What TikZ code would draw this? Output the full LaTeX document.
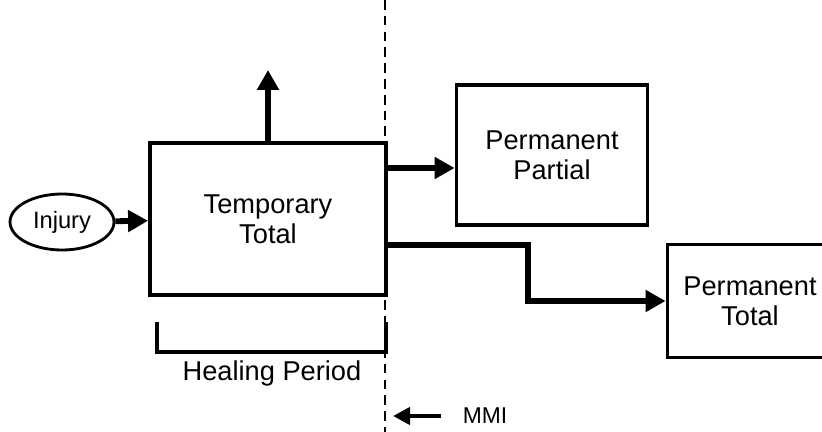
\documentclass[tikz,border=0pt]{standalone}
\usepackage{fontspec}
\setmainfont{Liberation Sans}
\usepackage{tikz}
\usetikzlibrary{arrows.meta,positioning,shapes.geometric}

\begin{document}
\begin{tikzpicture}[x=0.02cm,y=-0.02cm,
   stage/.style={draw,line width=2.2pt,rectangle,align=center,font=\fontsize{15.5}{17}\selectfont},
   flow/.style={line width=3.3pt,-{Triangle[length=0.4cm,width=0.42cm]}},
   mmiline/.style={line width=1.5pt,dash pattern=on 5.5pt off 3.5pt}]
\useasboundingbox (0,0) rectangle (822,432);
\node[draw,ellipse,line width=1.6pt,minimum width=2.08cm,minimum height=1.12cm,inner sep=0pt,
   font=\fontsize{13.5}{15}\selectfont] (injury) at (62,222) {Injury};
\node[stage,minimum width=4.72cm,minimum height=3.04cm] (temptotal) at (268,219) {Temporary\\Total};
\node[stage,minimum width=3.82cm,minimum height=2.8cm] (permpartial) at (552,155) {Permanent\\Partial};
\node[stage,minimum width=3.3cm,minimum height=2.26cm] (permtotal) at (750,301) {Permanent\\Total};
\coordinate (return) at (268,70);
\coordinate (bend) at (528,245);
\coordinate (mmitop) at (385,0);
\coordinate (mmibot) at (385,432);
% arrows between the stages
\draw[flow] (injury) -- (temptotal);
\draw[flow] (temptotal.north -| return) -- (return);
\draw[flow] (temptotal.east |- 0,168) -- (permpartial.west |- 0,168);
\draw[flow] (temptotal.east |- bend) -- (bend) |- (permtotal.west);
% maximum medical improvement
\draw[mmiline] (mmitop) -- (mmibot);
\draw[line width=2.2pt] (157,322) -- (157,352) -- (386,352) -- (386,322);
\node[font=\fontsize{15.5}{17}\selectfont] (healing) at (272,373) {Healing Period};
\node[font=\fontsize{13}{15}\selectfont] (mmi) at (485,416) {MMI};
\draw[line width=2.4pt,-{Triangle[length=0.34cm,width=0.34cm]}] (mmi.west) ++(-16,0) coordinate (mmistart) (mmistart) -- (393,416);
\end{tikzpicture}
\end{document}
